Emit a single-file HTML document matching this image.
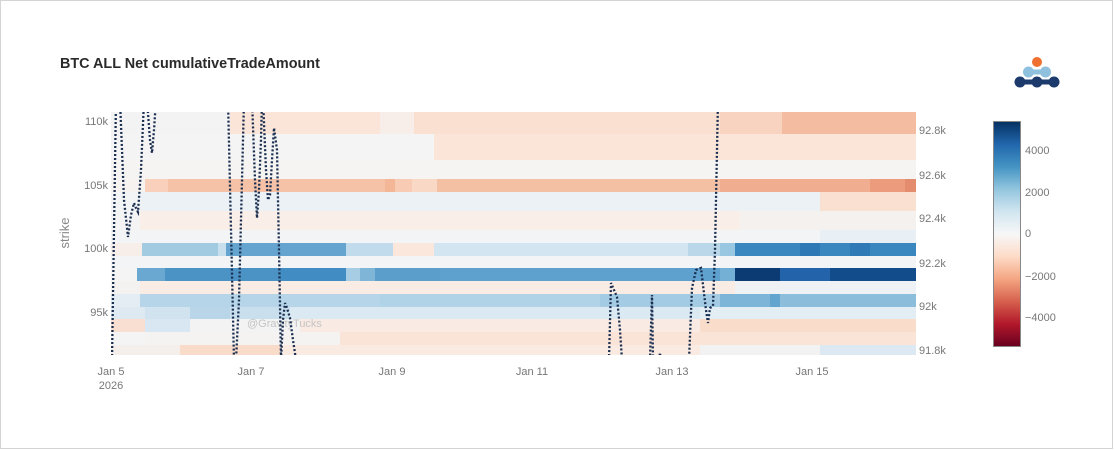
<!DOCTYPE html>
<html><head><meta charset="utf-8"><style>
html,body{margin:0;padding:0;background:#fff;}
svg{display:block;font-family:"Liberation Sans",Arial,sans-serif;}
.t{fill:#777;font-size:11px;}
</style></head><body>
<svg width="1114" height="450" viewBox="0 0 1114 450" xmlns="http://www.w3.org/2000/svg">
<defs>
<linearGradient id="cb" x1="0" y1="0" x2="0" y2="1">
<stop offset="0" stop-color="#053061"/><stop offset="0.1" stop-color="#2166ac"/><stop offset="0.2" stop-color="#4393c3"/><stop offset="0.3" stop-color="#92c5de"/><stop offset="0.4" stop-color="#d1e5f0"/><stop offset="0.5" stop-color="#f7f7f7"/><stop offset="0.6" stop-color="#fddbc7"/><stop offset="0.7" stop-color="#f4a582"/><stop offset="0.8" stop-color="#d6604d"/><stop offset="0.9" stop-color="#b2182b"/><stop offset="1" stop-color="#67001f"/>
</linearGradient>
<clipPath id="pc"><rect x="111" y="112" width="805" height="243"/></clipPath>
</defs>
<rect x="0.5" y="0.5" width="1112" height="448" fill="#fff" stroke="#d4d4d4"/>
<text x="60" y="68" font-size="14.4" font-weight="bold" fill="#2a2a2a">BTC ALL Net cumulativeTradeAmount</text>
<!-- logo -->
<g>
<circle cx="1037" cy="62" r="5" fill="#f07030"/>
<rect x="1028" y="69.5" width="17" height="5" fill="#8fc0dd"/>
<circle cx="1028.5" cy="72" r="5.5" fill="#8fc0dd"/><circle cx="1045.5" cy="72" r="5.5" fill="#8fc0dd"/>
<rect x="1019" y="79.5" width="35" height="5" fill="#1c3a6b"/>
<circle cx="1020" cy="82" r="5.5" fill="#1c3a6b"/><circle cx="1037" cy="82" r="5.5" fill="#1c3a6b"/><circle cx="1054" cy="82" r="5.5" fill="#1c3a6b"/>
</g>
<!-- heatmap -->
<g shape-rendering="crispEdges">
<!-- R0 -->
<rect x="111" y="112" width="119" height="22" fill="#f4f3f3"/>
<rect x="230" y="112" width="150" height="22" fill="#fbe5d8"/>
<rect x="380" y="112" width="34" height="22" fill="#f7eee9"/>
<rect x="414" y="112" width="306" height="22" fill="#fae0d1"/>
<rect x="720" y="112" width="62" height="22" fill="#f8d3bf"/>
<rect x="782" y="112" width="134" height="22" fill="#f4bda1"/>
<!-- R1 -->
<rect x="111" y="134" width="323" height="26" fill="#f5f4f4"/>
<rect x="434" y="134" width="482" height="26" fill="#fbe5d9"/>
<!-- R2 -->
<rect x="111" y="160" width="805" height="19" fill="#f5f4f3"/>
<!-- R3 -->
<rect x="111" y="179" width="34" height="13" fill="#f6f2f0"/>
<rect x="145" y="179" width="23" height="13" fill="#f8d0bb"/>
<rect x="168" y="179" width="217" height="13" fill="#f5c2a7"/>
<rect x="385" y="179" width="10" height="13" fill="#f3b697"/>
<rect x="395" y="179" width="17" height="13" fill="#f7cbb4"/>
<rect x="412" y="179" width="25" height="13" fill="#f9d8c6"/>
<rect x="437" y="179" width="283" height="13" fill="#f4c0a4"/>
<rect x="720" y="179" width="150" height="13" fill="#f1ad8f"/>
<rect x="870" y="179" width="35" height="13" fill="#ec9c7c"/>
<rect x="905" y="179" width="11" height="13" fill="#e48d6e"/>
<!-- R4 -->
<rect x="111" y="192" width="29" height="19" fill="#f3f4f5"/>
<rect x="140" y="192" width="680" height="19" fill="#ebf1f5"/>
<rect x="820" y="192" width="96" height="19" fill="#fae0d1"/>
<!-- R5 -->
<rect x="111" y="211" width="29" height="19" fill="#f4f4f4"/>
<rect x="140" y="211" width="600" height="19" fill="#f9eee8"/>
<rect x="740" y="211" width="176" height="19" fill="#f5f1ef"/>
<!-- R6 -->
<rect x="111" y="230" width="709" height="13" fill="#f3f4f5"/>
<rect x="820" y="230" width="96" height="13" fill="#e9f0f5"/>
<!-- R7 -->
<rect x="111" y="243" width="31" height="13" fill="#f8eee9"/>
<rect x="142" y="243" width="76" height="13" fill="#a2cbe2"/>
<rect x="218" y="243" width="8" height="13" fill="#c8dfee"/>
<rect x="226" y="243" width="120" height="13" fill="#64a4cf"/>
<rect x="346" y="243" width="47" height="13" fill="#c2dbec"/>
<rect x="393" y="243" width="41" height="13" fill="#fbe7dc"/>
<rect x="434" y="243" width="254" height="13" fill="#d3e5f0"/>
<rect x="688" y="243" width="32" height="13" fill="#bad7e9"/>
<rect x="720" y="243" width="15" height="13" fill="#99c6e0"/>
<rect x="735" y="243" width="181" height="13" fill="#3a86be"/>
<rect x="800" y="243" width="20" height="13" fill="#2e78b5"/>
<rect x="850" y="243" width="20" height="13" fill="#2f79b6"/>
<!-- R8 -->
<rect x="111" y="256" width="805" height="12" fill="#f3f4f5"/>
<!-- R9 -->
<rect x="111" y="268" width="26" height="13" fill="#f4f4f5"/>
<rect x="137" y="268" width="28" height="13" fill="#6aa8d2"/>
<rect x="165" y="268" width="115" height="13" fill="#4c93c5"/>
<rect x="280" y="268" width="66" height="13" fill="#418cc2"/>
<rect x="346" y="268" width="14" height="13" fill="#a6cde4"/>
<rect x="360" y="268" width="15" height="13" fill="#7fb6d8"/>
<rect x="375" y="268" width="65" height="13" fill="#5b9ecb"/>
<rect x="440" y="268" width="280" height="13" fill="#5ea1ce"/>
<rect x="720" y="268" width="15" height="13" fill="#74b0d6"/>
<rect x="735" y="268" width="45" height="13" fill="#0c3a72"/>
<rect x="780" y="268" width="50" height="13" fill="#2263a9"/>
<rect x="830" y="268" width="86" height="13" fill="#124c8a"/>
<!-- R10 -->
<rect x="111" y="281" width="29" height="13" fill="#f4f2f1"/>
<rect x="140" y="281" width="595" height="13" fill="#f9ece5"/>
<rect x="735" y="281" width="181" height="13" fill="#eef2f5"/>
<!-- R11 -->
<rect x="111" y="294" width="29" height="13" fill="#e4edf3"/>
<rect x="140" y="294" width="240" height="13" fill="#b6d5e8"/>
<rect x="380" y="294" width="220" height="13" fill="#b1d3e7"/>
<rect x="600" y="294" width="120" height="13" fill="#a3cbe3"/>
<rect x="720" y="294" width="60" height="13" fill="#7db5d8"/>
<rect x="770" y="294" width="10" height="13" fill="#64a5d0"/>
<rect x="780" y="294" width="136" height="13" fill="#8cbedc"/>
<!-- R12 -->
<rect x="111" y="307" width="34" height="12" fill="#dfe9f1"/>
<rect x="145" y="307" width="45" height="12" fill="#d0e3ef"/>
<rect x="190" y="307" width="40" height="12" fill="#b8d6e8"/>
<rect x="230" y="307" width="60" height="12" fill="#c9dfed"/>
<rect x="290" y="307" width="410" height="12" fill="#dbe9f2"/>
<rect x="700" y="307" width="216" height="12" fill="#e2edf4"/>
<!-- R13 -->
<rect x="111" y="319" width="34" height="13" fill="#f9dfd1"/>
<rect x="145" y="319" width="45" height="13" fill="#d8e7f1"/>
<rect x="190" y="319" width="110" height="13" fill="#f3f3f4"/>
<rect x="300" y="319" width="400" height="13" fill="#f9ebe3"/>
<rect x="700" y="319" width="216" height="13" fill="#fadccb"/>
<!-- R14 -->
<rect x="111" y="332" width="34" height="13" fill="#f4f4f4"/>
<rect x="145" y="332" width="195" height="13" fill="#f5f3f2"/>
<rect x="340" y="332" width="576" height="13" fill="#fae4d8"/>
<!-- R15 -->
<rect x="111" y="345" width="69" height="10" fill="#f5efec"/>
<rect x="180" y="345" width="100" height="10" fill="#f9dbca"/>
<rect x="280" y="345" width="420" height="10" fill="#f9eae2"/>
<rect x="700" y="345" width="120" height="10" fill="#f3f2f2"/>
<rect x="820" y="345" width="96" height="10" fill="#dce9f3"/>
</g>
<text x="247" y="327" font-size="11" fill="#c4c4c4">@GravityTucks</text>
<!-- price line -->
<g clip-path="url(#pc)">
<polyline fill="none" stroke="#1a2e50" stroke-width="2.3" stroke-dasharray="2,2" points="112,360 116,100 120,100 124,200 128,237 131,215 134,203 136,208 138,212 141,170 144,100 147,100 150,140 152,153 154,130 156,100 228,100 234,360 236,360 239,300 244,100 252,100 255,180 257,218 259,190 261,140 262,100 263,100 266,170 268,200 270,195 272,160 274,128 277,150 279,250 281,360 283,320 285,303 287,308 290,318 293,340 296,360 609,360 611,283 614,290 617,297 620,330 622,360 650,360 652,295 653,360 659,360 660,353 661,360 689,360 692,288 696,270 701,268 703,285 706,310 708,323 710,308 713,306 715,250 716,200 718,100"/>
</g>
<!-- left axis -->
<text class="t" x="108" y="125" text-anchor="end">110k</text>
<text class="t" x="108" y="189" text-anchor="end">105k</text>
<text class="t" x="108" y="252" text-anchor="end">100k</text>
<text class="t" x="108" y="316" text-anchor="end">95k</text>
<text x="0" y="0" font-size="13" fill="#888" text-anchor="middle" transform="translate(69,233) rotate(-90)">strike</text>
<!-- x axis -->
<text class="t" x="111" y="375" text-anchor="middle">Jan 5</text>
<text class="t" x="111" y="389" text-anchor="middle">2026</text>
<text class="t" x="251" y="375" text-anchor="middle">Jan 7</text>
<text class="t" x="392" y="375" text-anchor="middle">Jan 9</text>
<text class="t" x="532" y="375" text-anchor="middle">Jan 11</text>
<text class="t" x="672" y="375" text-anchor="middle">Jan 13</text>
<text class="t" x="812" y="375" text-anchor="middle">Jan 15</text>
<!-- right axis -->
<text class="t" x="919" y="134">92.8k</text>
<text class="t" x="919" y="179">92.6k</text>
<text class="t" x="919" y="222">92.4k</text>
<text class="t" x="919" y="267">92.2k</text>
<text class="t" x="919" y="310">92k</text>
<text class="t" x="919" y="354">91.8k</text>
<!-- colorbar -->
<rect x="993.5" y="121.5" width="27" height="225" fill="url(#cb)" stroke="#888" stroke-width="1"/>
<text class="t" x="1025" y="154">4000</text>
<text class="t" x="1025" y="196">2000</text>
<text class="t" x="1025" y="237">0</text>
<text class="t" x="1025" y="280">−2000</text>
<text class="t" x="1025" y="321">−4000</text>
</svg>
</body></html>
